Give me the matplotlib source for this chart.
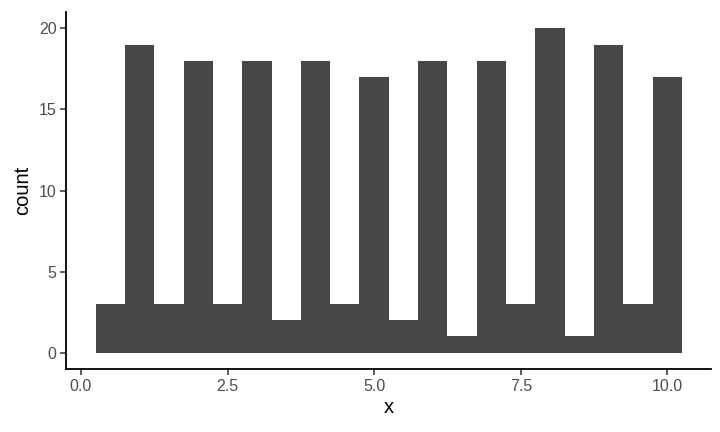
import numpy as np
import matplotlib
matplotlib.use("Agg")
import matplotlib.pyplot as plt

# histogram bins (centres) and counts
bin_centers = [0.5, 1.0, 1.5, 2.0, 2.5, 3.0, 3.5, 4.0, 4.5, 5.0,
               5.5, 6.0, 6.5, 7.0, 7.5, 8.0, 8.5, 9.0, 9.5, 10.0]
counts = [3, 19, 3, 18, 3, 18, 2, 18, 3, 17,
          2, 18, 1, 18, 3, 20, 1, 19, 3, 17]
bin_width = 0.5

x_ticks = [0.0, 2.5, 5.0, 7.5, 10.0]
x_tick_labels = ["0.0", "2.5", "5.0", "7.5", "10.0"]
y_ticks = [0, 5, 10, 15, 20]

plt.rcParams['font.family'] = ['Liberation Sans', 'DejaVu Sans']

fig = plt.figure(figsize=(7.2, 4.32), dpi=100)
ax = fig.add_axes([0.092, 0.146, 0.896, 0.826])

ax.bar(bin_centers, counts, width=bin_width, color='#474747', linewidth=0)

ax.set_xlim(-0.25, 10.75)
ax.set_ylim(-1, 21)
ax.set_xticks(x_ticks)
ax.set_xticklabels(x_tick_labels)
ax.set_yticks(y_ticks)

for side in ['top', 'right']:
    ax.spines[side].set_visible(False)
for side in ['left', 'bottom']:
    ax.spines[side].set_linewidth(1.3)
    ax.spines[side].set_color('black')

ax.tick_params(axis='both', length=4, width=1.1, colors='#333333',
               labelcolor='#4D4D4D', labelsize=11.5, pad=3)
ax.set_xlabel("x", fontsize=14.5, color='black', labelpad=3)
ax.set_ylabel("count", fontsize=14.5, color='black', labelpad=5)

fig.savefig("out.png", dpi=100)
